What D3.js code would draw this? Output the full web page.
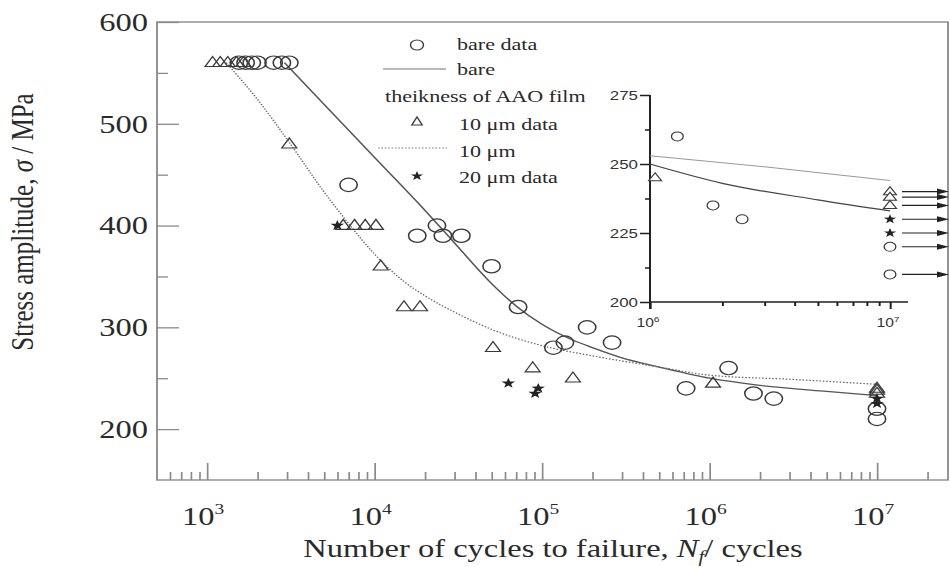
<!DOCTYPE html>
<html><head><meta charset="utf-8">
<script src="https://cdn.jsdelivr.net/npm/d3@7"></script>
<style>html,body{margin:0;padding:0;background:#fff;}svg{display:block;}
.serif{font-family:"Liberation Serif","Times New Roman",Times,serif;}
.sans{font-family:"Liberation Sans",Arial,Helvetica,sans-serif;}
</style>
</head><body>
<svg id="chart" width="950" height="567"></svg>
<script>
// ---------- data ----------
const bareN = [1550, 1700, 1850, 2000, 2500, 2800, 3100, 7000, 18000, 23600, 25600, 33000, 50000, 72000, 117000, 137000, 186000, 262000, 725000, 1300000, 1830000, 2420000, 1e7, 1e7];
const bareS = [560, 560, 560, 560, 560, 560, 560, 440, 390, 400, 390, 390, 360, 320, 280, 285, 300, 285, 240, 260, 235, 230, 220, 210];
const tenN = [1080, 1200, 1330, 1500, 1650, 3100, 6500, 7600, 8800, 10200, 10900, 15000, 18700, 51000, 88000, 153000, 1050000, 1e7, 1e7, 1e7];
const tenS = [560, 560, 560, 560, 560, 480, 400, 400, 400, 400, 360, 320, 320, 280, 260, 250, 245, 240, 238, 235];
const twentyN = [6000, 63000, 95000, 91000, 1e7, 1e7];
const twentyS = [400, 245, 240, 235, 230, 225];
const bareCurveN = [2900, 5000, 10000, 20000, 30000, 50000, 70000, 100000, 150000, 200000, 300000, 500000, 1e6, 2e6, 5e6, 1e7];
const bareCurveS = [560, 519, 467, 415, 383, 343, 321, 303, 288, 280, 270, 261, 250, 243, 237, 233];
const tenCurveN = [1300, 2000, 3000, 5000, 7000, 10000, 15000, 20000, 30000, 50000, 100000, 200000, 500000, 1e6, 3e6, 1e7];
const tenCurveS = [560, 524, 485, 433, 402, 372, 345, 331, 315, 298, 282, 272, 261, 253, 249, 244];
const yTicks = [200, 300, 400, 500, 600];
const yMinorTicks = [250, 350, 450, 550];
const xTickExps = [3, 4, 5, 6, 7];
const insetYTicks = [200, 225, 250, 275];
const insetYMinor = [212.5, 237.5, 262.5];
const insetXExps = [6, 7];
const legendLabels = ["bare data", "bare", "theikness of AAO film", "10 μm data", "10 μm", "20 μm data"];
const runoutN = 1e7;

// ---------- layout ----------
const SX = 1.3;               // horizontal stretch of the original picture
const R = v => v / SX;        // real px -> inner units
const frameC = "#8a8a8a", inkC = "#2a2a2a", markC = "#3a3a3a";

const svg = d3.select("#chart");
svg.append("rect").attr("width", 950).attr("height", 567).attr("fill", "#fff");
const g = svg.append("g").attr("transform", `scale(${SX},1)`);

const x = d3.scaleLog().domain([1e3, 1e7]).range([R(207), R(877)]);
const xf = x.copy().domain([x.invert(R(157)), x.invert(R(948))]).range([R(157), R(948)]);
const y = d3.scaleLinear().domain([150, 600]).range([480, 22]);

function triPath(w, h) { return `M0,${-h * 0.62}L${w / 2},${h * 0.38}L${-w / 2},${h * 0.38}Z`; }
function starPath(r) {
  const pts = [];
  for (let i = 0; i < 10; i++) {
    const rr = i % 2 === 0 ? r : r * 0.4;
    const a = -Math.PI / 2 + i * Math.PI / 5;
    pts.push([rr * Math.cos(a), rr * Math.sin(a)]);
  }
  return "M" + pts.map(p => p.join(",")).join("L") + "Z";
}

// ---------- main frame & axes ----------
g.append("rect").attr("x", R(157)).attr("y", 22).attr("width", R(948) - R(157)).attr("height", 480 - 22)
  .attr("fill", "none").attr("stroke", frameC).attr("stroke-width", 1.4);

const majorX = xTickExps.map(e => Math.pow(10, e));
const allX = xf.ticks().filter(v => v > xf.domain()[0] * 1.01 && v < xf.domain()[1]);
const minorX = allX.filter(v => !majorX.includes(v));

const axB = g.append("g").attr("transform", "translate(0,480)");
axB.append("g").call(d3.axisBottom(xf).tickValues(majorX).tickSize(-17).tickFormat(""))
  .call(s => s.select(".domain").remove());
axB.append("g").call(d3.axisBottom(xf).tickValues(minorX).tickSize(-8).tickFormat(""))
  .call(s => s.select(".domain").remove());
axB.selectAll("line").attr("stroke", frameC).attr("stroke-width", 1.3);

const axL = g.append("g").attr("transform", `translate(${R(157)},0)`);
axL.append("g").call(d3.axisLeft(y).tickValues(yTicks).tickSize(-R(22)).tickFormat(""))
  .call(s => s.select(".domain").remove());
axL.append("g").call(d3.axisLeft(y).tickValues(yMinorTicks).tickSize(-R(11)).tickFormat(""))
  .call(s => s.select(".domain").remove());
axL.selectAll("line").attr("stroke", frameC).attr("stroke-width", 1.3);

g.selectAll("text.ylab").data(yTicks).join("text").attr("class", "ylab serif")
  .attr("x", R(148)).attr("y", d => y(d)).attr("dy", "0.35em")
  .attr("text-anchor", "end").attr("font-size", 25).attr("fill", inkC)
  .text(d => d);

xTickExps.forEach(e => {
  const t = g.append("text").attr("class", "serif").attr("x", x(Math.pow(10, e)) - 3).attr("y", 525)
    .attr("text-anchor", "middle").attr("font-size", 25).attr("fill", inkC);
  t.append("tspan").text("10");
  t.append("tspan").attr("dy", -11).attr("font-size", 15).text(e);
});

const xt = g.append("text").attr("class", "serif").attr("x", R(553)).attr("y", 557).attr("text-anchor", "middle")
  .attr("font-size", 25).attr("fill", inkC);
xt.append("tspan").text("Number of cycles to failure, ");
xt.append("tspan").attr("font-style", "italic").text("N");
xt.append("tspan").attr("font-style", "italic").attr("font-size", 16).attr("dy", 5).text("f");
xt.append("tspan").attr("dy", -5).text("/ cycles");

const yt = g.append("text").attr("class", "serif").attr("transform", `translate(${R(33)},222) rotate(-90)`).attr("text-anchor", "middle")
  .attr("font-size", 25).attr("fill", inkC);
yt.append("tspan").text("Stress amplitude,  ");
yt.append("tspan").attr("font-style", "italic").text("σ");
yt.append("tspan").text(" / MPa");

// ---------- main curves ----------
const line = d3.line().x(d => x(d[0])).y(d => y(d[1])).curve(d3.curveMonotoneX);
g.append("path").datum(bareCurveN.map((n, i) => [n, bareCurveS[i]])).attr("d", line)
  .attr("fill", "none").attr("stroke", "#555").attr("stroke-width", 1.3);
g.append("path").datum(tenCurveN.map((n, i) => [n, tenCurveS[i]])).attr("d", line)
  .attr("fill", "none").attr("stroke", "#666").attr("stroke-width", 1.2).attr("stroke-dasharray", "1.2,1.4");

// ---------- main markers ----------
const bare = bareN.map((n, i) => [n, bareS[i]]);
const ten = tenN.map((n, i) => [n, tenS[i]]);
const twenty = twentyN.map((n, i) => [n, twentyS[i]]);

g.selectAll("path.tri").data(ten).join("path").attr("class", "tri")
  .attr("transform", d => `translate(${x(d[0])},${y(d[1])})`).attr("d", triPath(11.5, 10))
  .attr("fill", "none").attr("stroke", markC).attr("stroke-width", 1.1);
g.selectAll("circle.bc").data(bare).join("circle").attr("class", "bc")
  .attr("cx", d => x(d[0])).attr("cy", d => y(d[1])).attr("r", 6.7)
  .attr("fill", "none").attr("stroke", markC).attr("stroke-width", 1.2);
g.selectAll("path.st").data(twenty).join("path").attr("class", "st")
  .attr("transform", d => `translate(${x(d[0])},${y(d[1])})`).attr("d", starPath(5.5))
  .attr("fill", "#222");

// ---------- legend ----------
const lg = g.append("g").attr("class", "serif").attr("font-size", 17).attr("fill", inkC);
lg.append("circle").attr("cx", R(417)).attr("cy", 45).attr("r", 5).attr("fill", "none").attr("stroke", markC).attr("stroke-width", 1.1);
lg.append("text").attr("x", R(457)).attr("y", 50).text(legendLabels[0]);
lg.append("line").attr("x1", R(383)).attr("x2", R(446)).attr("y1", 69).attr("y2", 69).attr("stroke", "#777").attr("stroke-width", 1.2);
lg.append("text").attr("x", R(457)).attr("y", 75).text(legendLabels[1]);
lg.append("text").attr("x", R(385)).attr("y", 102).text(legendLabels[2]);
lg.append("path").attr("transform", `translate(${R(417)},122)`).attr("d", triPath(8, 8)).attr("fill", "none").attr("stroke", markC).attr("stroke-width", 1.1);
lg.append("text").attr("x", R(459)).attr("y", 130).text(legendLabels[3]);
lg.append("line").attr("x1", R(378)).attr("x2", R(447)).attr("y1", 148).attr("y2", 148).attr("stroke", "#777").attr("stroke-width", 1.1).attr("stroke-dasharray", "1.2,1.4");
lg.append("text").attr("x", R(459)).attr("y", 157).text(legendLabels[4]);
lg.append("path").attr("transform", `translate(${R(417)},176)`).attr("d", starPath(5)).attr("fill", "#222");
lg.append("text").attr("x", R(459)).attr("y", 183).text(legendLabels[5]);

// ---------- inset ----------
const xi = d3.scaleLog().domain([1e6, 1e7]).range([R(650), R(890)]);
const yi = d3.scaleLinear().domain([200, 275]).range([302, 95]);
const ig = g.append("g");
const insetC = "#1e1e1e";

ig.append("line").attr("x1", R(650)).attr("x2", R(650)).attr("y1", yi(275)).attr("y2", 309);
ig.append("line").attr("x1", R(650)).attr("x2", R(908)).attr("y1", 302).attr("y2", 302);
const iaL = ig.append("g").attr("transform", `translate(${R(650)},0)`);
iaL.append("g").call(d3.axisLeft(yi).tickValues(insetYTicks).tickSize(R(10)).tickFormat("")).call(s => s.select(".domain").remove());
iaL.append("g").call(d3.axisLeft(yi).tickValues(insetYMinor).tickSize(R(5)).tickFormat("")).call(s => s.select(".domain").remove());
const iaB = ig.append("g").attr("transform", "translate(0,302)");
const insetMajorX = insetXExps.map(e => Math.pow(10, e));
const insetMinorX = xi.ticks().filter(v => !insetMajorX.includes(v));
iaB.append("g").call(d3.axisBottom(xi).tickValues(insetMajorX).tickSize(7).tickFormat("")).call(s => s.select(".domain").remove());
iaB.append("g").call(d3.axisBottom(xi).tickValues(insetMinorX).tickSize(4).tickFormat("")).call(s => s.select(".domain").remove());
ig.selectAll("line").attr("stroke", insetC).attr("stroke-width", 1.5);

ig.selectAll("text.iyl").data(insetYTicks).join("text").attr("class", "iyl sans")
  .attr("x", R(638)).attr("y", d => yi(d)).attr("dy", "0.35em").attr("text-anchor", "end")
  .attr("font-size", 13).attr("fill", "#333").text(d => d);
insetXExps.forEach(e => {
  const t = ig.append("text").attr("class", "sans").attr("x", xi(Math.pow(10, e)) - 1.5).attr("y", 327).attr("text-anchor", "middle")
    .attr("font-size", 12).attr("fill", "#333");
  t.append("tspan").text("10");
  t.append("tspan").attr("dy", -5).attr("font-size", 8).text(e);
});

const iline = d3.line().x(d => xi(d[0])).y(d => yi(d[1])).curve(d3.curveMonotoneX);
ig.append("path").datum(tenCurveN.map((n, i) => [n, tenCurveS[i]]).filter(d => d[0] >= 1e6)).attr("d", iline)
  .attr("fill", "none").attr("stroke", "#999").attr("stroke-width", 1.1);
ig.append("path").datum(bareCurveN.map((n, i) => [n, bareCurveS[i]]).filter(d => d[0] >= 1e6)).attr("d", iline)
  .attr("fill", "none").attr("stroke", "#444").attr("stroke-width", 1.2);

ig.selectAll("path.itri").data(ten.filter(d => d[0] >= 1e6)).join("path").attr("class", "itri")
  .attr("transform", d => `translate(${xi(d[0])},${yi(d[1])})`).attr("d", triPath(10, 8))
  .attr("fill", "#fff").attr("stroke", markC).attr("stroke-width", 1);
ig.selectAll("circle.ic").data(bare.filter(d => d[0] >= 1e6)).join("circle").attr("class", "ic")
  .attr("cx", d => xi(d[0])).attr("cy", d => yi(d[1])).attr("r", 4.5)
  .attr("fill", "#fff").attr("stroke", markC).attr("stroke-width", 1);
ig.selectAll("path.ist").data(twenty.filter(d => d[0] >= 1e6)).join("path").attr("class", "ist")
  .attr("transform", d => `translate(${xi(d[0])},${yi(d[1])})`).attr("d", starPath(5))
  .attr("fill", "#222");

const runouts = [...ten, ...twenty, ...bare].filter(d => d[0] === runoutN);
runouts.forEach(d => {
  const yy = yi(d[1]);
  ig.append("line").attr("x1", R(902)).attr("x2", R(940)).attr("y1", yy).attr("y2", yy).attr("stroke", "#222").attr("stroke-width", 1.1);
  ig.append("path").attr("d", `M${R(949)},${yy}L${R(937)},${yy - 3}L${R(937)},${yy + 3}Z`).attr("fill", "#222");
});
</script>
</body></html>
